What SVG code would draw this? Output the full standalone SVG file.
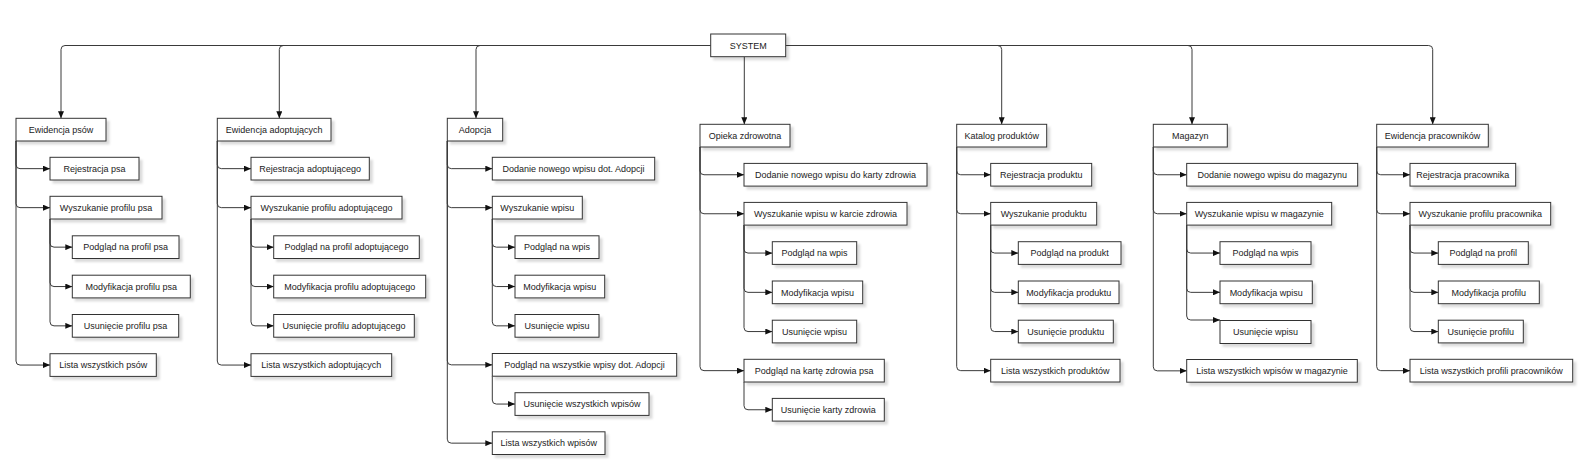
<svg xmlns="http://www.w3.org/2000/svg" width="1591" height="475" viewBox="0 0 1591 475">
<style>
.box{fill:#fff;stroke:#333;stroke-width:1;filter:url(#sh)}
.t{font-family:"Liberation Sans",Arial,sans-serif;font-size:9px;fill:#222;text-anchor:middle}
.c{fill:none;stroke:#3a3a3a;stroke-width:1;marker-end:url(#ah)}
</style>
<defs>
<filter id="sh" x="-10%" y="-30%" width="130%" height="180%"><feDropShadow dx="3" dy="3" stdDeviation="1" flood-color="#000" flood-opacity="0.14"/></filter>
<marker id="ah" markerWidth="7" markerHeight="6" refX="7" refY="3" orient="auto" markerUnits="userSpaceOnUse"><path d="M0,0 L7,3 L0,6 z" fill="#111"/></marker>
</defs>
<rect width="1591" height="475" fill="#fff"/>
<g id="connectors">
<path class="c" d="M710.7,45.5 H65 Q61,45.5 61,49.5 V118.3"/>
<path class="c" d="M710.7,45.5 H283.3 Q279.3,45.5 279.3,49.5 V118.3"/>
<path class="c" d="M710.7,45.5 H480 Q476,45.5 476,49.5 V118.3"/>
<path class="c" d="M744.3,56.7 V124.3"/>
<path class="c" d="M785.7,45.5 H997.7 Q1001.7,45.5 1001.7,49.5 V124.3"/>
<path class="c" d="M785.7,45.5 H1188 Q1192,45.5 1192,49.5 V124.3"/>
<path class="c" d="M785.7,45.5 H1428.7 Q1432.7,45.5 1432.7,49.5 V124.3"/>
<path class="c" d="M16,141 V164.65 Q16,168.65 20,168.65 H50"/>
<path class="c" d="M16,141 V203.65 Q16,207.65 20,207.65 H50"/>
<path class="c" d="M16,141 V361.05 Q16,365.05 20,365.05 H50"/>
<path class="c" d="M50,219 V243.15 Q50,247.15 54,247.15 H72.3"/>
<path class="c" d="M50,219 V282.55 Q50,286.55 54,286.55 H72.3"/>
<path class="c" d="M50,219 V321.85 Q50,325.85 54,325.85 H72.3"/>
<path class="c" d="M217.3,141 V164.65 Q217.3,168.65 221.3,168.65 H251"/>
<path class="c" d="M217.3,141 V203.65 Q217.3,207.65 221.3,207.65 H251"/>
<path class="c" d="M217.3,141 V361.05 Q217.3,365.05 221.3,365.05 H251"/>
<path class="c" d="M251,219 V243.15 Q251,247.15 255,247.15 H273.7"/>
<path class="c" d="M251,219 V282.55 Q251,286.55 255,286.55 H273.7"/>
<path class="c" d="M251,219 V321.85 Q251,325.85 255,325.85 H273.7"/>
<path class="c" d="M447.3,141 V164.65 Q447.3,168.65 451.3,168.65 H492.3"/>
<path class="c" d="M447.3,141 V203.65 Q447.3,207.65 451.3,207.65 H492.3"/>
<path class="c" d="M447.3,141 V360.85 Q447.3,364.85 451.3,364.85 H492.3"/>
<path class="c" d="M447.3,141 V439.15 Q447.3,443.15 451.3,443.15 H492.3"/>
<path class="c" d="M492.3,219 V243.15 Q492.3,247.15 496.3,247.15 H515"/>
<path class="c" d="M492.3,219 V282.55 Q492.3,286.55 496.3,286.55 H515"/>
<path class="c" d="M492.3,219 V321.85 Q492.3,325.85 496.3,325.85 H515"/>
<path class="c" d="M492.3,376.2 V400.05 Q492.3,404.05 496.3,404.05 H515"/>
<path class="c" d="M700,147 V170.75 Q700,174.75 704,174.75 H744"/>
<path class="c" d="M700,147 V209.75 Q700,213.75 704,213.75 H744"/>
<path class="c" d="M700,147 V366.65 Q700,370.65 704,370.65 H744"/>
<path class="c" d="M744,225.1 V249.05 Q744,253.05 748,253.05 H772.3"/>
<path class="c" d="M744,225.1 V288.35 Q744,292.35 748,292.35 H772.3"/>
<path class="c" d="M744,225.1 V327.55 Q744,331.55 748,331.55 H772.3"/>
<path class="c" d="M744,382 V405.75 Q744,409.75 748,409.75 H772.3"/>
<path class="c" d="M956.7,147 V170.75 Q956.7,174.75 960.7,174.75 H990.7"/>
<path class="c" d="M956.7,147 V209.75 Q956.7,213.75 960.7,213.75 H990.7"/>
<path class="c" d="M956.7,147 V366.65 Q956.7,370.65 960.7,370.65 H990.7"/>
<path class="c" d="M990.7,225.1 V249.05 Q990.7,253.05 994.7,253.05 H1018.3"/>
<path class="c" d="M990.7,225.1 V288.35 Q990.7,292.35 994.7,292.35 H1018.3"/>
<path class="c" d="M990.7,225.1 V327.55 Q990.7,331.55 994.7,331.55 H1018.3"/>
<path class="c" d="M1153.3,147 V170.75 Q1153.3,174.75 1157.3,174.75 H1186.7"/>
<path class="c" d="M1153.3,147 V209.75 Q1153.3,213.75 1157.3,213.75 H1186.7"/>
<path class="c" d="M1153.3,147 V366.85 Q1153.3,370.85 1157.3,370.85 H1186.7"/>
<path class="c" d="M1186.7,225.1 V249.05 Q1186.7,253.05 1190.7,253.05 H1220"/>
<path class="c" d="M1186.7,225.1 V288.35 Q1186.7,292.35 1190.7,292.35 H1220"/>
<path class="c" d="M1186.7,225.1 V316 Q1186.7,320 1190.7,320 H1220"/>
<path class="c" d="M1376.7,147 V170.75 Q1376.7,174.75 1380.7,174.75 H1410"/>
<path class="c" d="M1376.7,147 V209.75 Q1376.7,213.75 1380.7,213.75 H1410"/>
<path class="c" d="M1376.7,147 V366.65 Q1376.7,370.65 1380.7,370.65 H1410"/>
<path class="c" d="M1410,225.1 V249.05 Q1410,253.05 1414,253.05 H1438.3"/>
<path class="c" d="M1410,225.1 V288.35 Q1410,292.35 1414,292.35 H1438.3"/>
<path class="c" d="M1410,225.1 V327.55 Q1410,331.55 1414,331.55 H1438.3"/>
</g>
<g id="system"><rect class="box" x="710.7" y="34" width="75" height="22.7"/><text class="t" x="748.2" y="48.55">SYSTEM</text></g>

<g id="a0"><rect class="box" x="16" y="118.3" width="90" height="22.7"/><text class="t" x="61" y="132.85">Ewidencja psów</text></g>
<g id="a1"><rect class="box" x="50" y="157.3" width="89" height="22.7"/><text class="t" x="94.5" y="171.85">Rejestracja psa</text></g>
<g id="a2"><rect class="box" x="50" y="196.3" width="112" height="22.7"/><text class="t" x="106" y="210.85">Wyszukanie profilu psa</text></g>
<g id="a3"><rect class="box" x="72.3" y="235.8" width="106.7" height="22.7"/><text class="t" x="125.65" y="250.35">Podgląd na profil psa</text></g>
<g id="a4"><rect class="box" x="72.3" y="275.2" width="118" height="22.7"/><text class="t" x="131.3" y="289.75">Modyfikacja profilu psa</text></g>
<g id="a5"><rect class="box" x="72.3" y="314.5" width="106.4" height="22.7"/><text class="t" x="125.5" y="329.05">Usunięcie profilu psa</text></g>
<g id="a6"><rect class="box" x="50" y="353.7" width="106.3" height="22.7"/><text class="t" x="103.15" y="368.25">Lista wszystkich psów</text></g>

<g id="b0"><rect class="box" x="217.3" y="118.3" width="113.7" height="22.7"/><text class="t" x="274.15" y="132.85">Ewidencja adoptujących</text></g>
<g id="b1"><rect class="box" x="251" y="157.3" width="118.3" height="22.7"/><text class="t" x="310.15" y="171.85">Rejestracja adoptującego</text></g>
<g id="b2"><rect class="box" x="251" y="196.3" width="151" height="22.7"/><text class="t" x="326.5" y="210.85">Wyszukanie profilu adoptującego</text></g>
<g id="b3"><rect class="box" x="273.7" y="235.8" width="145.6" height="22.7"/><text class="t" x="346.5" y="250.35">Podgląd na profil adoptującego</text></g>
<g id="b4"><rect class="box" x="273.7" y="275.2" width="152" height="22.7"/><text class="t" x="349.7" y="289.75">Modyfikacja profilu adoptującego</text></g>
<g id="b5"><rect class="box" x="273.7" y="314.5" width="140.6" height="22.7"/><text class="t" x="344" y="329.05">Usunięcie profilu adoptującego</text></g>
<g id="b6"><rect class="box" x="251" y="353.7" width="140.7" height="22.7"/><text class="t" x="321.35" y="368.25">Lista wszystkich adoptujących</text></g>

<g id="c0"><rect class="box" x="447.3" y="118.3" width="55.4" height="22.7"/><text class="t" x="475" y="132.85">Adopcja</text></g>
<g id="c1"><rect class="box" x="492.3" y="157.3" width="162.4" height="22.7"/><text class="t" x="573.5" y="171.85">Dodanie nowego wpisu dot. Adopcji</text></g>
<g id="c2"><rect class="box" x="492.3" y="196.3" width="90" height="22.7"/><text class="t" x="537.3" y="210.85">Wyszukanie wpisu</text></g>
<g id="c3"><rect class="box" x="515" y="235.8" width="84" height="22.7"/><text class="t" x="557" y="250.35">Podgląd na wpis</text></g>
<g id="c4"><rect class="box" x="515" y="275.2" width="89.7" height="22.7"/><text class="t" x="559.85" y="289.75">Modyfikacja wpisu</text></g>
<g id="c5"><rect class="box" x="515" y="314.5" width="84" height="22.7"/><text class="t" x="557" y="329.05">Usunięcie wpisu</text></g>
<g id="c6"><rect class="box" x="492.3" y="353.5" width="184.4" height="22.7"/><text class="t" x="584.5" y="368.05">Podgląd na wszystkie wpisy dot. Adopcji</text></g>
<g id="c7"><rect class="box" x="515" y="392.7" width="134" height="22.7"/><text class="t" x="582" y="407.25">Usunięcie wszystkich wpisów</text></g>
<g id="c8"><rect class="box" x="492.3" y="431.8" width="112.7" height="22.7"/><text class="t" x="548.65" y="446.35">Lista wszystkich wpisów</text></g>

<g id="d0"><rect class="box" x="700" y="124.3" width="90" height="22.7"/><text class="t" x="745" y="138.85">Opieka zdrowotna</text></g>
<g id="d1"><rect class="box" x="744" y="163.4" width="183" height="22.7"/><text class="t" x="835.5" y="177.95">Dodanie nowego wpisu do karty zdrowia</text></g>
<g id="d2"><rect class="box" x="744" y="202.4" width="163" height="22.7"/><text class="t" x="825.5" y="216.95">Wyszukanie wpisu w karcie zdrowia</text></g>
<g id="d3"><rect class="box" x="772.3" y="241.7" width="84.4" height="22.7"/><text class="t" x="814.5" y="256.25">Podgląd na wpis</text></g>
<g id="d4"><rect class="box" x="772.3" y="281" width="90.4" height="22.7"/><text class="t" x="817.5" y="295.55">Modyfikacja wpisu</text></g>
<g id="d5"><rect class="box" x="772.3" y="320.2" width="84.4" height="22.7"/><text class="t" x="814.5" y="334.75">Usunięcie wpisu</text></g>
<g id="d6"><rect class="box" x="744" y="359.3" width="140.3" height="22.7"/><text class="t" x="814.15" y="373.85">Podgląd na kartę zdrowia psa</text></g>
<g id="d7"><rect class="box" x="772.3" y="398.4" width="112" height="22.7"/><text class="t" x="828.3" y="412.95">Usunięcie karty zdrowia</text></g>

<g id="e0"><rect class="box" x="956.7" y="124.3" width="90" height="22.7"/><text class="t" x="1001.7" y="138.85">Katalog produktów</text></g>
<g id="e1"><rect class="box" x="990.7" y="163.4" width="101" height="22.7"/><text class="t" x="1041.2" y="177.95">Rejestracja produktu</text></g>
<g id="e2"><rect class="box" x="990.7" y="202.4" width="106" height="22.7"/><text class="t" x="1043.7" y="216.95">Wyszukanie produktu</text></g>
<g id="e3"><rect class="box" x="1018.3" y="241.7" width="102.7" height="22.7"/><text class="t" x="1069.65" y="256.25">Podgląd na produkt</text></g>
<g id="e4"><rect class="box" x="1018.3" y="281" width="100.7" height="22.7"/><text class="t" x="1068.65" y="295.55">Modyfikacja produktu</text></g>
<g id="e5"><rect class="box" x="1018.3" y="320.2" width="95" height="22.7"/><text class="t" x="1065.8" y="334.75">Usunięcie produktu</text></g>
<g id="e6"><rect class="box" x="990.7" y="359.3" width="129.3" height="22.7"/><text class="t" x="1055.35" y="373.85">Lista wszystkich produktów</text></g>

<g id="f0"><rect class="box" x="1153.3" y="124.3" width="74" height="22.7"/><text class="t" x="1190.3" y="138.85">Magazyn</text></g>
<g id="f1"><rect class="box" x="1186.7" y="163.4" width="171" height="22.7"/><text class="t" x="1272.2" y="177.95">Dodanie nowego wpisu do magazynu</text></g>
<g id="f2"><rect class="box" x="1186.7" y="202.4" width="145" height="22.7"/><text class="t" x="1259.2" y="216.95">Wyszukanie wpisu w magazynie</text></g>
<g id="f3"><rect class="box" x="1220" y="241.7" width="91" height="22.7"/><text class="t" x="1265.5" y="256.25">Podgląd na wpis</text></g>
<g id="f4"><rect class="box" x="1220" y="281" width="92.3" height="22.7"/><text class="t" x="1266.15" y="295.55">Modyfikacja wpisu</text></g>
<g id="f5"><rect class="box" x="1220" y="320.5" width="91" height="23"/><text class="t" x="1265.5" y="335.2">Usunięcie wpisu</text></g>
<g id="f6"><rect class="box" x="1186.7" y="359.5" width="170.6" height="22.7"/><text class="t" x="1272" y="374.05">Lista wszystkich wpisów w magazynie</text></g>

<g id="g0"><rect class="box" x="1376.7" y="124.3" width="111.6" height="22.7"/><text class="t" x="1432.5" y="138.85">Ewidencja pracowników</text></g>
<g id="g1"><rect class="box" x="1410" y="163.4" width="105.7" height="22.7"/><text class="t" x="1462.85" y="177.95">Rejestracja pracownika</text></g>
<g id="g2"><rect class="box" x="1410" y="202.4" width="140.7" height="22.7"/><text class="t" x="1480.35" y="216.95">Wyszukanie profilu pracownika</text></g>
<g id="g3"><rect class="box" x="1438.3" y="241.7" width="90" height="22.7"/><text class="t" x="1483.3" y="256.25">Podgląd na profil</text></g>
<g id="g4"><rect class="box" x="1438.3" y="281" width="101" height="22.7"/><text class="t" x="1488.8" y="295.55">Modyfikacja profilu</text></g>
<g id="g5"><rect class="box" x="1438.3" y="320.2" width="85" height="22.7"/><text class="t" x="1480.8" y="334.75">Usunięcie profilu</text></g>
<g id="g6"><rect class="box" x="1410" y="359.3" width="162.7" height="22.7"/><text class="t" x="1491.35" y="373.85">Lista wszystkich profili pracowników</text></g>
</svg>
